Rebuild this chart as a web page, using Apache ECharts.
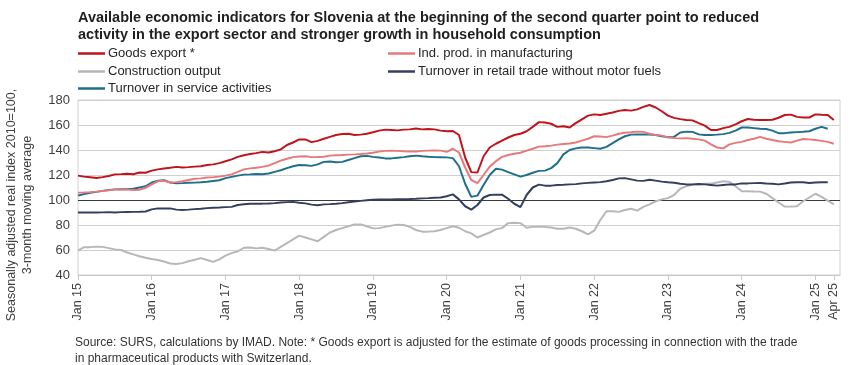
<!DOCTYPE html>
<html><head><meta charset="utf-8">
<script src="https://cdn.jsdelivr.net/npm/echarts@6/dist/echarts.min.js"></script>
<style>html,body{margin:0;padding:0;background:#fff}#c{width:850px;height:365px}</style>
</head><body><div id="c"></div>
<script>
// Months Jan 2015 .. May 2025 (axis runs to May 2025; data end Apr 2025)
const startYear = 2015, nMonths = 125;
const monthNames = ['Jan','Feb','Mar','Apr','May','Jun','Jul','Aug','Sep','Oct','Nov','Dec'];
const categories = [];
for (let i = 0; i < nMonths; i++) {
  const y = startYear + Math.floor(i / 12);
  categories.push(monthNames[i % 12] + ' ' + String(y).slice(2));
}
const labelledMonths = ['Jan 15','Jan 16','Jan 17','Jan 18','Jan 19','Jan 20','Jan 21','Jan 22','Jan 23','Jan 24','Jan 25','Apr 25'];
const yTicks = [40, 60, 80, 100, 120, 140, 160, 180];

const goodsExport = [
119.5,118.7,118.2,117.6,118.3,119.2,120.5,120.7,121.0,120.6,122.0,121.8,
123.5,124.5,125.2,125.8,126.5,126.0,126.3,126.7,127.0,128.0,128.5,129.5,
131.0,132.5,134.5,135.8,136.8,137.5,138.5,138.0,139.0,140.5,144.0,146.0,
148.5,148.5,146.3,147.3,149.0,150.5,152.0,152.8,153.0,152.0,152.3,153.0,
154.2,155.5,156.3,156.0,155.7,156.3,156.5,157.2,156.5,156.8,156.5,155.5,
155.0,155.2,152.0,134.0,122.3,122.0,135.0,142.0,145.0,147.5,150.0,152.0,
153.0,155.0,158.5,162.3,162.0,161.0,158.5,159.0,158.0,161.5,164.5,167.5,
168.5,168.0,169.0,170.0,171.3,172.0,171.5,172.5,174.5,176.0,174.0,171.0,
167.5,165.7,164.7,164.0,163.7,161.5,159.5,156.0,156.0,157.5,158.5,160.5,
163.0,164.8,164.2,164.0,164.0,164.2,165.8,168.0,168.3,166.5,166.0,166.0,
168.5,168.2,168.0,164.0];

const indProd = [
105.9,106.0,106.3,106.7,107.3,107.8,108.3,108.5,108.3,108.0,108.2,109.8,
112.5,115.0,115.5,114.0,114.3,115.0,116.0,117.0,117.3,118.0,118.3,118.7,
119.5,120.5,122.5,124.5,125.3,125.8,126.5,127.5,129.5,131.5,133.0,134.3,
134.8,135.0,134.3,134.4,134.6,135.5,135.8,136.0,136.3,136.5,136.8,137.2,
137.8,138.7,139.3,139.5,139.3,139.0,138.8,138.8,139.3,139.5,139.7,139.5,
138.5,141.0,138.0,126.0,116.0,113.5,120.0,126.7,131.0,134.5,136.0,137.0,
137.8,139.5,141.0,142.7,143.0,143.5,144.3,144.8,145.2,146.0,147.5,149.0,
151.0,150.8,150.3,151.5,153.0,153.8,154.2,154.7,154.5,153.0,152.0,151.5,
150.0,149.5,149.3,149.5,149.0,148.5,147.5,144.5,142.0,141.3,144.5,145.7,
146.5,148.0,149.0,150.5,149.0,148.0,147.0,146.5,146.0,147.5,148.8,148.5,
148.0,147.3,146.5,145.0];

const construction = [
59.5,62.3,62.3,62.7,62.5,61.5,60.5,60.0,58.0,56.5,55.0,53.8,
52.8,52.0,50.8,49.2,48.8,49.5,51.0,52.2,53.5,52.0,50.5,52.5,
55.5,57.5,59.0,61.8,62.0,61.3,61.8,60.8,59.5,62.5,65.5,68.5,
71.5,70.0,68.5,67.0,70.5,74.0,76.0,77.5,79.0,80.5,80.5,79.0,
77.3,77.5,78.5,79.5,80.3,80.0,78.5,76.0,74.7,74.7,75.0,76.0,
77.5,79.0,77.8,75.0,73.3,70.0,72.0,74.0,76.5,77.5,81.5,81.8,
81.5,77.8,78.5,78.7,78.5,78.0,77.0,77.0,78.0,77.0,75.0,72.5,
75.5,84.0,91.0,91.0,90.5,92.0,93.0,91.5,94.5,96.5,99.0,100.5,
101.5,104.0,109.0,111.0,112.3,112.5,113.0,113.0,114.0,115.0,114.5,111.0,
107.0,107.0,106.8,106.7,105.0,101.5,98.0,94.7,94.8,95.0,99.0,102.0,
105.0,102.5,99.5,96.5];

const retail = [
90.0,90.0,90.0,90.0,90.1,90.3,90.0,90.3,90.4,90.5,90.6,90.8,
92.5,93.3,93.3,93.3,92.3,92.0,92.3,92.7,93.0,93.5,93.8,94.0,
94.3,94.5,96.0,96.6,97.0,97.1,97.1,97.2,97.5,98.0,98.3,98.5,
97.8,97.3,96.3,95.8,96.5,96.7,97.0,97.5,98.2,98.8,99.3,99.8,
100.2,100.5,100.5,100.5,100.6,100.7,100.8,101.0,101.3,101.5,101.8,102.0,
103.0,104.5,100.5,95.0,92.3,96.0,102.0,104.0,104.3,104.3,101.0,97.0,
94.3,104.0,110.0,112.3,111.5,111.5,112.0,112.2,112.5,112.7,113.3,113.7,
114.0,114.3,115.0,116.0,117.3,117.5,116.5,115.5,115.3,116.2,115.5,114.7,
114.2,113.8,113.0,112.5,112.5,112.8,112.5,112.0,111.5,112.0,112.5,112.5,
113.3,113.3,113.5,113.6,113.2,113.0,112.5,113.2,114.0,114.2,114.2,113.6,
114.0,114.2,114.2,null];

const services = [
103.5,104.8,105.8,106.5,107.3,108.0,108.5,108.7,108.7,109.0,110.0,111.0,
114.0,115.5,115.8,114.0,113.3,113.5,113.8,113.9,114.2,114.6,115.2,115.8,
117.5,118.5,119.5,120.3,120.5,120.8,120.6,121.2,122.5,123.8,125.5,127.0,
128.0,127.8,127.3,128.5,130.5,130.8,130.2,130.5,132.0,133.5,135.0,135.3,
134.5,134.0,133.3,133.3,133.8,134.3,135.0,135.5,135.0,134.6,134.3,134.2,
134.1,133.5,127.0,113.0,102.5,103.5,112.0,120.0,125.0,124.3,122.3,120.5,
118.7,120.0,121.8,123.3,123.5,125.5,129.5,136.5,140.0,141.3,142.0,142.0,
141.5,141.0,142.5,145.5,148.5,151.0,152.3,152.5,152.5,152.3,152.0,151.0,
150.3,150.5,154.0,154.7,154.5,152.5,152.0,152.0,152.3,152.7,153.7,155.5,
158.0,158.0,157.5,157.0,156.8,155.5,153.5,153.5,154.0,154.3,154.6,155.0,
157.0,158.5,157.0,null];

const seriesNames = ['Goods export *','Ind. prod. in manufacturing','Construction output','Turnover in retail trade without motor fuels','Turnover in service activities'];
const seriesColors = ['#C0141C','#E8797B','#B5B8BB','#333E60','#1E6F8C'];
const seriesData = [goodsExport, indProd, construction, retail, services];
const baseline = 100;

const sans = "'Liberation Sans',Arial,sans-serif";
const showLabel = (idx, val) => labelledMonths.indexOf(categories[idx]) >= 0;

const legendPos = [[73,42],[383,42],[73,60],[383,60],[73,77]];
const chart = echarts.init(document.getElementById('c'), null, {renderer:'canvas'});
const drawOrder = [2,3,4,1,0];
chart.setOption({
  animation:false,
  backgroundColor:'#fff',
  title:{text:'Available economic indicators for Slovenia at the beginning of the second quarter point to reduced\nactivity in the export sector and stronger growth in household consumption',
    left:73, top:4, textStyle:{fontFamily:sans, fontSize:14.5, fontWeight:'bold', color:'#1f1f1f', lineHeight:17}},
  legend: seriesNames.map((n,k)=>({data:[n], left:legendPos[k][0], top:legendPos[k][1], icon:'rect', itemWidth:27, itemHeight:2.5, itemGap:0,
    textStyle:{fontFamily:sans, fontSize:13, color:'#262626', padding:[0,0,0,-2]}})),
  grid:{left:78, right:10, top:100, bottom:90, show:true, borderColor:'#d0d0d0', borderWidth:1},
  xAxis:{type:'category', data:categories, boundaryGap:false,
    axisLine:{show:true, lineStyle:{color:'#c8c8c8'}},
    axisTick:{show:true, interval:showLabel, length:5, lineStyle:{color:'#c8c8c8'}},
    axisLabel:{interval:showLabel, rotate:90, margin:8, fontFamily:sans, fontSize:12.5, color:'#404040'},
    splitLine:{show:false}},
  yAxis:{type:'value', min:yTicks[0], max:yTicks[yTicks.length-1], interval:20,
    axisLine:{show:false}, axisTick:{show:false},
    axisLabel:{margin:8, fontFamily:sans, fontSize:13, color:'#404040'},
    splitLine:{lineStyle:{color:'#d0d0d0', width:1}}},
  graphic:[
    {type:'text', x:20, y:205, rotation:Math.PI/2, style:{text:'Seasonally adjusted real index 2010=100,\n3-month moving average', font:'12.5px '+sans, fill:'#404040', align:'center', verticalAlign:'middle', lineHeight:16}},
    {type:'text', left:75, top:335, style:{text:'Source: SURS, calculations by IMAD. Note: * Goods export is adjusted for the estimate of goods processing in connection with the trade\nin pharmaceutical products with Switzerland.', font:'12px '+sans, fill:'#333333', lineHeight:15.5}}
  ],
  series: drawOrder.map((k,j)=>({name:seriesNames[k], type:'line', data:seriesData[k], showSymbol:false, symbol:'none', connectNulls:false,
    lineStyle:{color:seriesColors[k], width:2}, itemStyle:{color:seriesColors[k]}, z:3+j,
    markLine: k===2 ? {silent:true, symbol:'none', label:{show:false}, lineStyle:{color:'#3a3a3a', width:1.2, type:'solid'}, data:[{yAxis:baseline}], z:2} : undefined}))
});
</script></body></html>
